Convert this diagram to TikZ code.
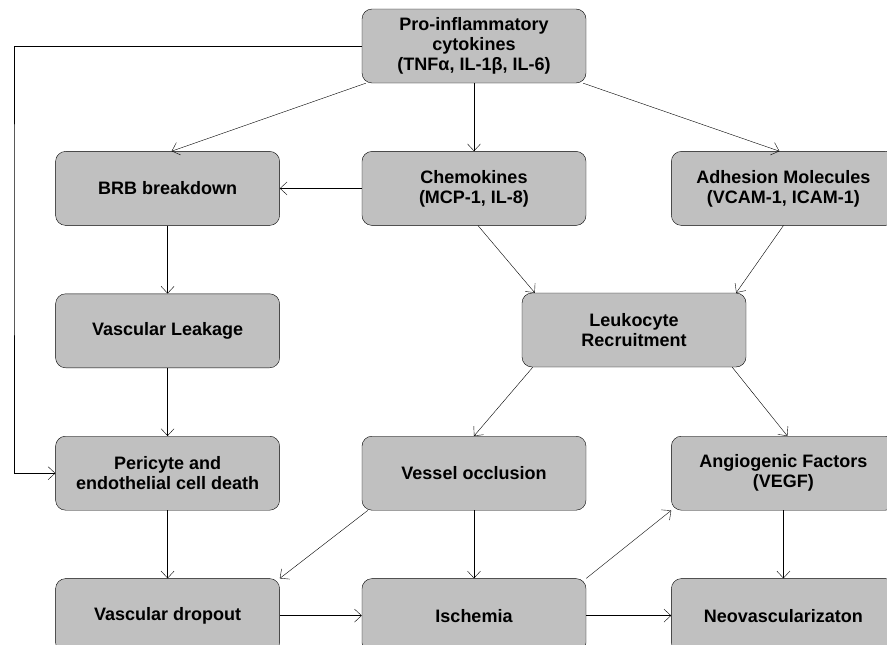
\documentclass[tikz,border=0pt]{standalone}
\usepackage{fontspec}
\setmainfont{Liberation Sans}
\usetikzlibrary{arrows.meta,positioning}
\definecolor{boxgray}{RGB}{192,192,192}
\tikzset{
    -{Straight Barb[length=7pt,width=13pt]},line width=1.3pt,
    x=1pt,y=1pt,node distance = 68pt and 82pt,
    box/.style = {rectangle, rounded corners=10pt, draw, fill=boxgray,
        minimum width=224pt, minimum height=74pt, align=center,
        font=\fontsize{18}{20}\selectfont\bfseries}
}

\begin{document}
\begin{tikzpicture}
    \useasboundingbox (0,0) rectangle (887,-645);
    \clip (0,0) rectangle (887,-645);
    \node[box] (1) at (474,-46) {Pro-inflammatory\\cytokines\\(TNFα, IL-1β, IL-6)};
    \node[box] (2) [below = of 1] {Chemokines\\(MCP-1, IL-8)};
    \node[box] (3) [left = of 2] {BRB breakdown};
    \node[box] (4) [right = 85pt of 2] {Adhesion Molecules\\(VCAM-1, ICAM-1)};
    \node[box] (6) [below = of 3] {Vascular Leakage};
    \node[box] (5) at (634,-330) {Leukocyte\\Recruitment};
    \node[box] (7) [below = of 6] {Pericyte and\\endothelial cell death};
    \node[box] (8) [right = of 7] {Vessel occlusion};
    \node[box] (9) [right = 85pt of 8] {Angiogenic Factors\\(VEGF)};
    \node[box] (10) [below = of 7] {Vascular dropout};
    \node[box] (11) [below = of 8] {Ischemia};
    \node[box] (12) [below = of 9] {Neovascularizaton};
    \coordinate (c) at (14,-200);

    \path ([xshift=4pt]1.south west) edge ([xshift=4pt]3.north);
    \path (1.south) edge (2.north);
    \path ([xshift=-3pt]1.south east) edge ([xshift=-4pt]4.north);
    \path (2.west) edge (3.east);
    \path ([xshift=4pt]2.south) edge ([xshift=13pt]5.north west);
    \path (4.south) edge ([xshift=-10pt]5.north east);
    \path (3.south) edge (6.north);
    \path (6.south) edge (7.north);
    \path ([xshift=11pt]5.south west) edge (8.north);
    \path ([xshift=-14pt]5.south east) edge ([xshift=4pt]9.north);
    \path (7.south) edge (10.north);
    \path ([xshift=6pt]8.south west) edge (10.north east);
    \path (8.south) edge (11.north);
    \path (11.north east) edge (9.south west);
    \path (9.south) edge (12.north);
    \path (10.east) edge (11.west);
    \path (11.east) edge (12.west);
    % cytokines straight to cell death
    \draw (1.west) -| (c) |- (7.west);
\end{tikzpicture}
\end{document}
